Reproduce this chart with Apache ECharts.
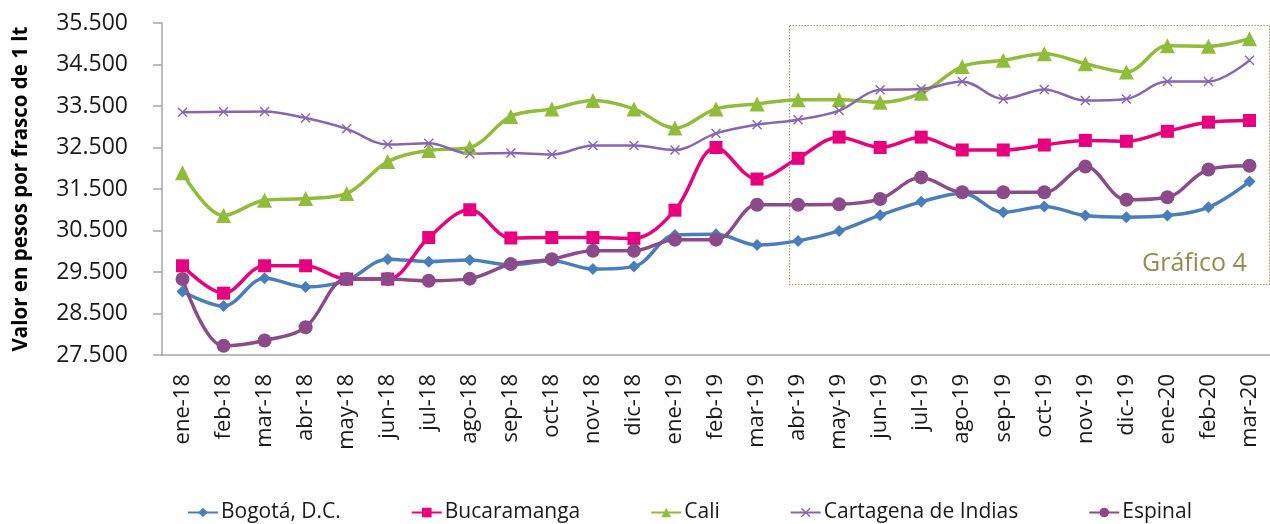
<!DOCTYPE html>
<html>
<head>
<meta charset="utf-8">
<script src="https://cdn.jsdelivr.net/npm/echarts@6/dist/echarts.min.js"></script>
<style>
html,body{margin:0;padding:0;background:#fff;}
#chart{width:1270px;height:524px;}
</style>
</head>
<body>
<div id="chart"></div>
<script>
const categories = ['ene-18','feb-18','mar-18','abr-18','may-18','jun-18','jul-18','ago-18','sep-18','oct-18','nov-18','dic-18',
  'ene-19','feb-19','mar-19','abr-19','may-19','jun-19','jul-19','ago-19','sep-19','oct-19','nov-19','dic-19',
  'ene-20','feb-20','mar-20'];

const bogota = [29030,28680,29350,29140,29300,29810,29750,29790,29670,29770,29570,29630,
  30390,30410,30150,30250,30490,30870,31190,31400,30940,31080,30860,30820,30860,31060,31680];
const bucaramanga = [29650,28990,29650,29650,29330,29330,30330,31000,30320,30330,30330,30310,
  30990,32500,31740,32240,32750,32500,32750,32440,32440,32560,32670,32650,32890,33110,33150];
const cali = [31890,30860,31230,31270,31390,32160,32430,32500,33250,33430,33630,33430,
  32970,33430,33550,33650,33650,33590,33810,34450,34600,34760,34520,34320,34950,34940,35120];
const cartagena = [33350,33360,33370,33210,32950,32570,32600,32350,32370,32330,32550,32550,
  32440,32840,33050,33170,33390,33890,33910,34090,33670,33900,33630,33670,34090,34090,34600];
const espinal = [29330,27720,27850,28170,29330,29330,29290,29340,29690,29810,30010,30010,
  30280,30280,31120,31120,31130,31260,31780,31420,31420,31420,32040,31240,31300,31970,32060];

const seriesNames = ['Bogotá, D.C.','Bucaramanga','Cali','Cartagena de Indias','Espinal'];
const yAxisTitle = 'Valor en pesos por frasco de 1 lt';
const annotationText = 'Gráfico 4';

const FONT = '"Open Sans", "Noto Sans", sans-serif';
const crossPath = 'path://M0,1L1,0L5,4L9,0L10,1L6,5L10,9L9,10L5,6L1,10L0,9L4,5Z';

function fmt(v){ return String(v).replace(/\B(?=(\d{3})+(?!\d))/g,'.'); }

function mkSeries(name, data, color, symbol, size, width){
  return {
    name: name, type: 'line', data: data, smooth: 0.35,
    symbol: symbol, symbolSize: size,
    lineStyle: {color: color, width: width},
    itemStyle: {color: color},
    z: 3
  };
}

const chart = echarts.init(document.getElementById('chart'), null, {renderer:'canvas'});
chart.setOption({
  animation: false,
  backgroundColor: '#ffffff',
  textStyle: {fontFamily: FONT},
  grid: {left: 162, top: 23, width: 1111, height: 332, containLabel: false},
  xAxis: {
    type: 'category', data: categories, boundaryGap: true,
    axisLine: {lineStyle: {color: '#a6a6a6', width: 1.5}},
    axisTick: {show: false},
    axisLabel: {rotate: 90, color: '#1a1a1a', fontSize: 22, fontFamily: FONT, margin: 19, interval: 0}
  },
  yAxis: {
    type: 'value', min: 27500, max: 35500, interval: 1000,
    name: yAxisTitle, nameLocation: 'middle', nameGap: 130,
    nameTextStyle: {fontSize: 20.5, fontWeight: 'bold', color: '#000', fontFamily: FONT},
    axisLine: {show: true, lineStyle: {color: '#a6a6a6', width: 1.5}},
    axisTick: {show: true, inside: false, length: 9, lineStyle: {color: '#a6a6a6', width: 1.5}},
    splitLine: {show: false},
    axisLabel: {color: '#1a1a1a', fontSize: 23, fontFamily: FONT, margin: 34, formatter: fmt}
  },
  legend: {
    left: 182, top: 497, itemGap: 70, itemWidth: 30, itemHeight: 12,
    textStyle: {fontSize: 21, color: '#1a1a1a', fontFamily: FONT, padding: [0,0,0,-2]},
    data: seriesNames
  },
  graphic: [
    {type: 'rect', left: 787, top: 23, shape: {width: 480, height: 259},
      style: {fill: 'none', stroke: '#a59d6a', lineWidth: 1.2, lineDash: [1.5, 1.5]}, z: 1},
    {type: 'text', left: 1142, top: 251, style: {text: annotationText, fill: '#948a54', font: '25px ' + FONT}, z: 1}
  ],
  series: [
    mkSeries(seriesNames[0], bogota, '#4a7ebb', 'diamond', 12, 3.5),
    mkSeries(seriesNames[1], bucaramanga, '#e6007e', 'rect', 13, 3.5),
    mkSeries(seriesNames[2], cali, '#8fbc3a', 'triangle', 15, 3.5),
    mkSeries(seriesNames[3], cartagena, '#8766b0', crossPath, 10, 2.5),
    mkSeries(seriesNames[4], espinal, '#8b4b8b', 'circle', 14, 3.5)
  ]
});
</script>
</body>
</html>
